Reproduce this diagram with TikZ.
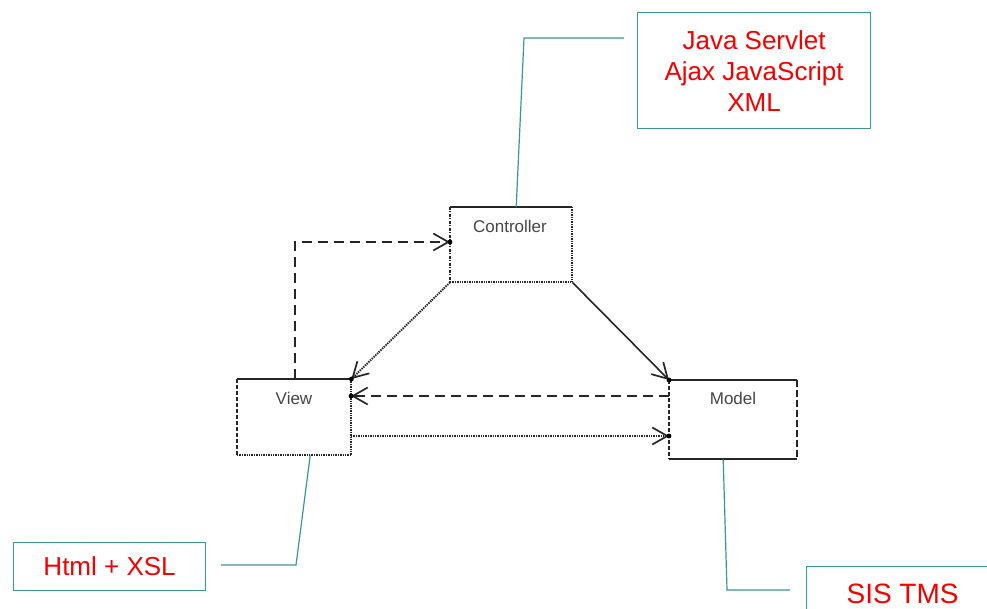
\documentclass[tikz,border=0pt]{standalone}
\usepackage{fontspec}
\setmainfont{Liberation Sans}
\usetikzlibrary{arrows.meta}
\definecolor{noteteal}{RGB}{60,150,150}
\definecolor{notered}{RGB}{245,0,0}
\definecolor{labelgray}{RGB}{70,70,70}
\begin{document}
\begin{tikzpicture}[x=1pt,y=-1pt,
  classbox/.style={inner sep=0pt, anchor=north west},
  classlabel/.style={text=labelgray, font=\fontsize{17}{20}\selectfont, inner sep=0pt},
  edgeline/.style={line width=1.6pt, black!85},
  solidside/.style={edgeline},
  dotside/.style={edgeline, dash pattern=on 1.4pt off 1pt, line width=1.9pt},
  dashside/.style={edgeline, dash pattern=on 4pt off 2pt},
  dashdotside/.style={edgeline, dash pattern=on 3pt off 1.5pt on 1pt off 1.5pt},
  opentip/.style={-{Straight Barb[length=15pt,width=17pt,line width=1.7pt]}},
  dashedflow/.style={edgeline, opentip, dash pattern=on 10pt off 6pt, line width=1.8pt},
  dottedflow/.style={edgeline, opentip, dash pattern=on 1.4pt off 1pt, line width=1.9pt},
  solidflow/.style={edgeline, opentip},
  notebox/.style={draw=noteteal, line width=1.2pt, inner sep=0pt, anchor=north west,
    text=notered, align=center, font=\fontsize{26}{31}\selectfont},
  noteline/.style={draw=noteteal, line width=1.2pt},
  tipdot/.style={fill=black}
]
\clip (0,0) rectangle (987,609);
\fill[white] (0,0) rectangle (987,609);

% class boxes
\node[classbox, minimum width=122pt, minimum height=75pt] (ctrl) at (450,207) {};
\node[classbox, minimum width=114pt, minimum height=76pt] (view) at (237,379) {};
\node[classbox, minimum width=128pt, minimum height=79pt] (model) at (669,380) {};

\node[classlabel] (ctrllabel) at (510,226) {Controller};
\node[classlabel] (viewlabel) at (294,398) {View};
\node[classlabel] (modellabel) at (733,398) {Model};

% box outlines, each side in its own stroke
\draw[solidside] (ctrl.north west) -- (ctrl.north east);
\draw[dashdotside] (ctrl.north west) -- (ctrl.south west);
\draw[dotside] (ctrl.north east) -- (ctrl.south east);
\draw[dotside] (ctrl.south west) -- (ctrl.south east);

\draw[solidside] (view.north west) -- (view.north east);
\draw[dashside] (view.north west) -- (view.south west);
\draw[dotside] (view.north east) -- (view.south east);
\draw[dotside] (view.south west) -- (view.south east);

\draw[solidside] (model.north west) -- (model.north east);
\draw[dashside] (model.north west) -- (model.south west);
\draw[edgeline, line width=2pt, dash pattern=on 7pt off 3pt] (model.north east) -- (model.south east);
\draw[solidside, line width=1.9pt] (model.south west) -- (model.south east);

% flows between the classes
\coordinate (viewup) at (295,379);
\coordinate (bend) at (295,242);
\coordinate (ctrlin) at (450,242);
\draw[dashedflow] (viewup) -- (bend) -- (ctrlin);
\fill[tipdot] (ctrlin) circle (2.4pt);

\draw[dottedflow] (ctrl.south west) -- (view.north east);
\fill[tipdot] (view.north east) circle (2.4pt);

\draw[solidflow] (ctrl.south east) -- (model.north west);
\fill[tipdot] (model.north west) circle (2.4pt);

\coordinate (modelout) at (669,396);
\coordinate (viewin) at (351,396);
\draw[dashedflow] (modelout) -- (viewin);
\fill[tipdot] (viewin) circle (2.4pt);

\coordinate (viewout) at (351,436);
\coordinate (modelin) at (669,436);
\draw[dottedflow] (viewout) -- (modelin);
\fill[tipdot] (modelin) circle (2.4pt);

% technology notes
\node[notebox, minimum width=233pt, minimum height=116pt] (technote) at (637,12)
  {Java Servlet\\Ajax JavaScript\\XML};
\node[notebox, minimum width=192pt, minimum height=48pt] (viewnote) at (13,542)
  {Html + XSL};
\node[notebox, minimum width=192pt, minimum height=54pt, font=\fontsize{28}{31}\selectfont] (modelnote) at (806,566)
  {SIS TMS};

\coordinate (technoteend) at (624,38);
\coordinate (viewnoteend) at (221,565);
\coordinate (modelnoteend) at (790,590);
\draw[noteline] ([xshift=5pt]ctrl.north) -- (524,38) -- (technoteend);
\draw[noteline] ([xshift=16pt]view.south) -- (296,565) -- (viewnoteend);
\draw[noteline] ([xshift=-10pt]model.south) -- (727,590) -- (modelnoteend);
\end{tikzpicture}
\end{document}
